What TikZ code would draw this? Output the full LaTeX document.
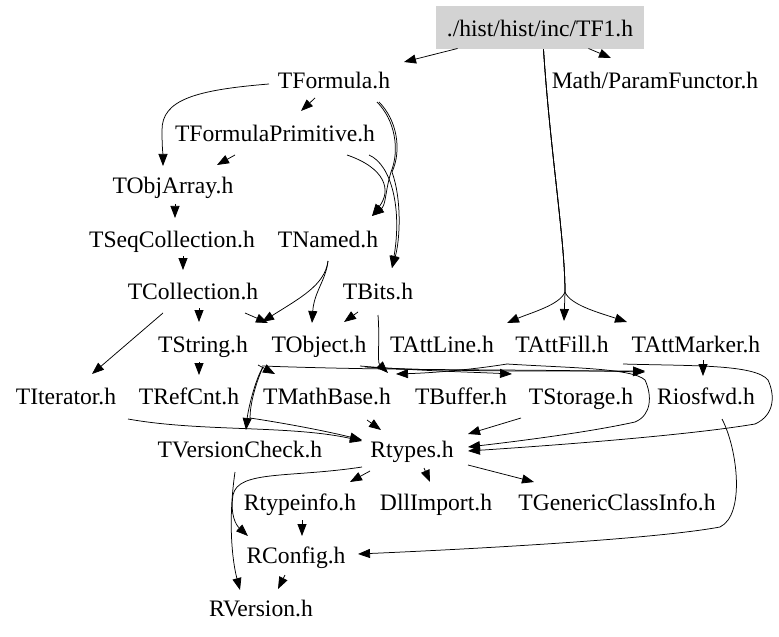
\documentclass[tikz,border=0pt]{standalone}
\usepackage{fontspec}
\setmainfont{Liberation Serif}
\usetikzlibrary{arrows.meta}
\definecolor{boxgray}{RGB}{211,211,211}
\tikzset{
  lbl/.style={anchor=base, inner sep=0pt, font=\fontsize{23.6bp}{28bp}\selectfont},
  rootbox/.style={fill=boxgray, inner sep=0pt, minimum width=208bp, minimum height=43bp,
    text height=19bp, text depth=1bp, font=\fontsize{23.6bp}{28bp}\selectfont},
  dep/.style={line width=0.75bp, -{Triangle[length=12bp,width=9bp]}}
}
\begin{document}
\begin{tikzpicture}[x=1bp,y=-1bp]
\useasboundingbox (0,0) rectangle (779,637);
% nodes
\node[rootbox] (TF1) at (540,27.5) {./hist/hist/inc/TF1.h};
\node[lbl] (TFormula) at (334,89) {TFormula.h};
\node[lbl] (PF) at (655,89) {Math/ParamFunctor.h};
\node[lbl] (TFP) at (275,142) {TFormulaPrimitive.h};
\node[lbl] (TObjArray) at (173,194) {TObjArray.h};
\node[lbl] (TSeqC) at (172,247) {TSeqCollection.h};
\node[lbl] (TNamed) at (328,247) {TNamed.h};
\node[lbl] (TColl) at (193,299) {TCollection.h};
\node[lbl] (TBits) at (378,299) {TBits.h};
\node[lbl] (TString) at (203,352) {TString.h};
\node[lbl] (TObject) at (319,352) {TObject.h};
\node[lbl] (TAttLine) at (442,352) {TAttLine.h};
\node[lbl] (TAttFill) at (562,352) {TAttFill.h};
\node[lbl] (TAttMarker) at (696,352) {TAttMarker.h};
\node[lbl] (TIterator) at (66,404) {TIterator.h};
\node[lbl] (TRefCnt) at (189,404) {TRefCnt.h};
\node[lbl] (TMathBase) at (327,404) {TMathBase.h};
\node[lbl] (TBuffer) at (461,404) {TBuffer.h};
\node[lbl] (TStorage) at (581,404) {TStorage.h};
\node[lbl] (Riosfwd) at (706,404) {Riosfwd.h};
\node[lbl] (TVC) at (240,457) {TVersionCheck.h};
\node[lbl] (Rtypes) at (412,457) {Rtypes.h};
\node[lbl] (Rtypeinfo) at (300,510) {Rtypeinfo.h};
\node[lbl] (DllImport) at (436,510) {DllImport.h};
\node[lbl] (TGCI) at (617,510) {TGenericClassInfo.h};
\node[lbl] (RConfig) at (296,563) {RConfig.h};
\node[lbl] (RVersion) at (261,616) {RVersion.h};
\coordinate (split) at (565,292);
% edges
\draw[dep] ([shift={(-82.5,12)}]TF1.base) -- ([shift={(70,-27)}]TFormula.base);
\draw[dep] ([shift={(48.5,12)}]TF1.base) -- ([shift={(-44,-31)}]PF.base);
\draw[dep] ([shift={(3.5,13)}]TF1.base) .. controls (550,150) and (565,240) .. (split) .. controls (560,305) and (530,313) .. ([shift={(65,-29)}]TAttLine.base);
\draw[dep] ([shift={(3.5,13)}]TF1.base) .. controls (550,150) and (565,240) .. (split) -- ([shift={(2,-31)}]TAttFill.base);
\draw[dep] ([shift={(3.5,13)}]TF1.base) .. controls (550,150) and (565,240) .. (split) .. controls (570,305) and (600,313) .. ([shift={(-69,-30)}]TAttMarker.base);
\draw[dep] ([shift={(-65,-5)}]TFormula.base) .. controls (195,90) and (162,100) .. (162,130) .. controls (162,148) and (163,155) .. ([shift={(-10,-28)}]TObjArray.base);
\draw[dep] ([shift={(-19,9)}]TFormula.base) -- ([shift={(26,-31)}]TFP.base);
\draw[dep] ([shift={(43,13)}]TFormula.base) .. controls (395,120) and (400,150) .. (391,172) .. controls (385,192) and (386,205) .. ([shift={(44,-31)}]TNamed.base);
\draw[dep] ([shift={(45,13)}]TFormula.base) .. controls (397,120) and (402,150) .. (392,172) .. controls (402,200) and (400,240) .. ([shift={(14,-31)}]TBits.base);
\draw[dep] ([shift={(72,13)}]TFP.base) .. controls (385,168) and (392,190) .. ([shift={(44,-31)}]TNamed.base);
\draw[dep] ([shift={(94,13)}]TFP.base) .. controls (392,165) and (402,210) .. ([shift={(14,-31)}]TBits.base);
\draw[dep] ([shift={(-40,13)}]TFP.base) -- ([shift={(44,-29)}]TObjArray.base);
\draw[dep] ([shift={(2,10)}]TObjArray.base) -- ([shift={(3,-29)}]TSeqC.base);
\draw[dep] ([shift={(11,9)}]TSeqC.base) -- ([shift={(-10,-29)}]TColl.base);
\draw[dep] ([shift={(0,14)}]TNamed.base) .. controls (326,280) and (314,292) .. ([shift={(-7,-29)}]TObject.base);
\draw[dep] ([shift={(0,14)}]TNamed.base) .. controls (325,285) and (300,298) .. ([shift={(59,-30)}]TString.base);
\draw[dep] ([shift={(52,14)}]TColl.base) -- ([shift={(-51,-29)}]TObject.base);
\draw[dep] ([shift={(6,9)}]TColl.base) -- ([shift={(-4,-30)}]TString.base);
\draw[dep] ([shift={(-30,14)}]TColl.base) -- ([shift={(26,-30)}]TIterator.base);
\draw[dep] ([shift={(-20,13)}]TBits.base) -- ([shift={(25,-30)}]TObject.base);
\draw[dep] ([shift={(0,16)}]TBits.base) .. controls (380,340) and (377,362) .. ([shift={(61,-31)}]TMathBase.base);
\draw[dep] ([shift={(-4,10)}]TString.base) -- ([shift={(10,-29)}]TRefCnt.base);
\draw[dep] ([shift={(55,13)}]TString.base) -- ([shift={(-52,-30)}]TMathBase.base);
\draw[dep] ([shift={(59,14)}]TString.base) .. controls (400,371) and (520,369) .. ([shift={(-61,-32)}]Riosfwd.base);
\draw[dep] ([shift={(-56,15)}]TObject.base) .. controls (255,380) and (248,410) .. ([shift={(6,-27)}]TVC.base);
\draw[dep] ([shift={(-56,15)}]TObject.base) .. controls (255,385) and (250,405) .. (250,418) .. controls (290,424) and (330,432) .. ([shift={(-50,-17)}]Rtypes.base);
\draw[dep] ([shift={(-61,15)}]TRefCnt.base) .. controls (200,432) and (290,425) .. ([shift={(-50,-16)}]Rtypes.base);
\draw[dep] ([shift={(40,16)}]TMathBase.base) -- ([shift={(-31,-27)}]Rtypes.base);
\draw[dep] ([shift={(-60,14)}]TStorage.base) -- ([shift={(56,-23)}]Rtypes.base);
\draw[dep] ([shift={(-55,12)}]TAttFill.base) .. controls (570,368) and (632,368) .. (645,380) .. controls (652,395) and (652,415) .. (635,422) .. controls (590,432) and (520,441) .. ([shift={(56,-10)}]Rtypes.base);
\draw[dep] ([shift={(-73,12)}]TAttMarker.base) .. controls (690,366) and (755,364) .. (768,380) .. controls (775,395) and (775,415) .. (755,424) .. controls (690,435) and (560,445) .. ([shift={(56,-6)}]Rtypes.base);
\draw[dep] ([shift={(7,8)}]TAttMarker.base) -- ([shift={(-3,-28)}]Riosfwd.base);
\draw[dep] ([shift={(16,15)}]Riosfwd.base) .. controls (738,450) and (745,515) .. (720,527) .. controls (650,540) and (450,550) .. ([shift={(62,-9)}]RConfig.base);
\draw[dep] ([shift={(-42,14)}]Rtypes.base) -- ([shift={(50,-28)}]Rtypeinfo.base);
\draw[dep] ([shift={(12,11)}]Rtypes.base) -- ([shift={(-6,-28)}]DllImport.base);
\draw[dep] ([shift={(56,8)}]Rtypes.base) -- ([shift={(-83,-28)}]TGCI.base);
\draw[dep] ([shift={(-50,10)}]Rtypes.base) .. controls (290,478) and (238,470) .. (233,495) .. controls (230,515) and (236,525) .. ([shift={(-48,-27)}]RConfig.base);
\draw[dep] ([shift={(-5,15)}]TVC.base) .. controls (228,520) and (232,560) .. ([shift={(-21,-26)}]RVersion.base);
\draw[dep] ([shift={(2,10)}]Rtypeinfo.base) -- ([shift={(6,-27)}]RConfig.base);
\draw[dep] ([shift={(-11,12)}]RConfig.base) -- ([shift={(17,-27)}]RVersion.base);
\draw[dep] ([shift={(41,14)}]TObject.base) .. controls (420,371) and (470,372) .. ([shift={(-69,-30)}]TStorage.base);
\draw[dep] ([shift={(46,15)}]TObject.base) .. controls (450,372) and (560,371) .. ([shift={(-61,-33)}]Riosfwd.base);
\draw[dep] ([shift={(-55,12)}]TAttFill.base) .. controls (470,370) and (430,373) .. ([shift={(69,-30)}]TMathBase.base);
\end{tikzpicture}
\end{document}
